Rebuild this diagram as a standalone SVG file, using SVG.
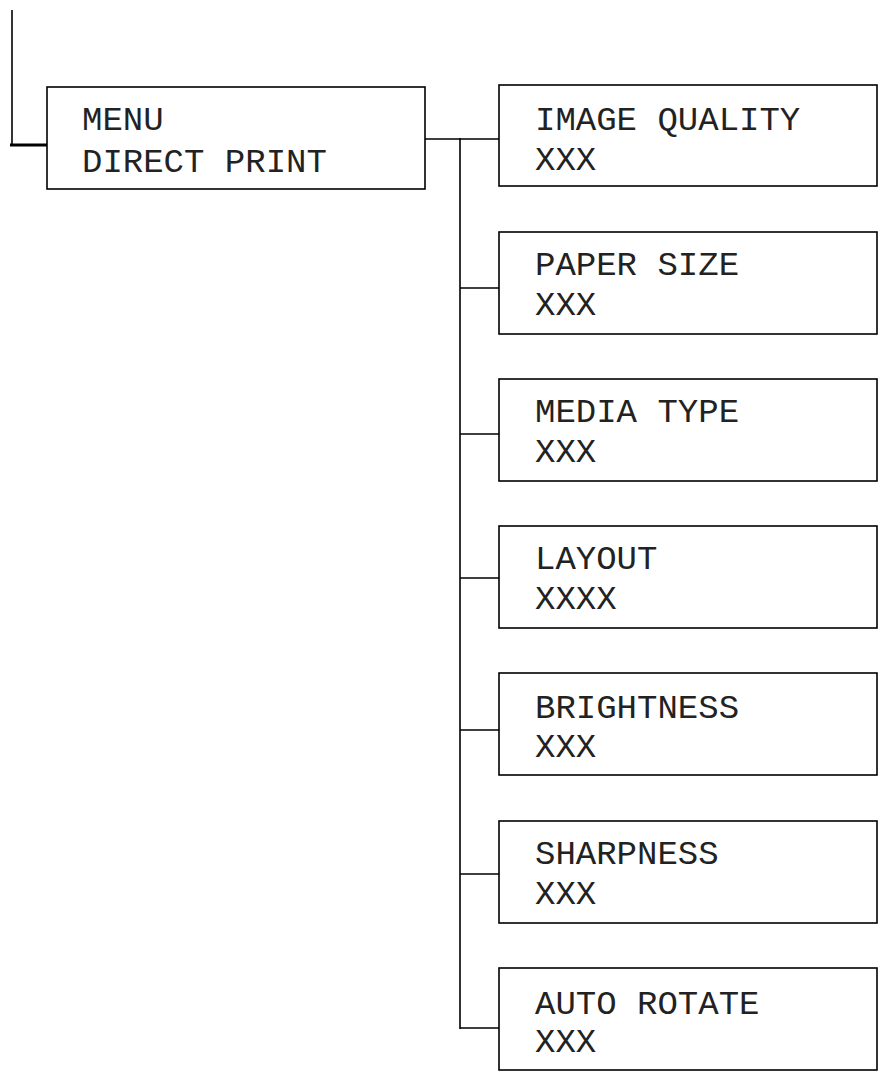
<svg xmlns="http://www.w3.org/2000/svg" width="879" height="1079" viewBox="0 0 879 1079">
<style>
.box{fill:#fff;stroke:#000;stroke-width:1.6}
.ln{stroke:#000;stroke-width:1.6;fill:none}
text{font-family:"Liberation Mono","Courier New",monospace;font-size:34px;fill:#222}
</style>
<rect width="879" height="1079" fill="#fff"/>
<g id="connectors">
<path class="ln" d="M12 10V145"/>
<path d="M10 145H47" stroke="#000" stroke-width="3"/>
<path class="ln" d="M425 139H499M460 138V1029"/>
<path class="ln" d="M460 288H499M460 434H499M460 578H499M460 730H499M460 874H499M460 1028H499"/>
</g>
<g id="menu"><rect class="box" x="47" y="87" width="378" height="102"/><text x="82" y="130">MENU</text><text x="82" y="172">DIRECT PRINT</text></g>
<g id="image_quality"><rect class="box" x="499" y="85" width="378" height="101"/><text x="535" y="130">IMAGE QUALITY</text><text x="535" y="170">XXX</text></g>
<g id="paper_size"><rect class="box" x="499" y="232" width="378" height="102"/><text x="535" y="275">PAPER SIZE</text><text x="535" y="315">XXX</text></g>
<g id="media_type"><rect class="box" x="499" y="379" width="378" height="102"/><text x="535" y="422">MEDIA TYPE</text><text x="535" y="462">XXX</text></g>
<g id="layout"><rect class="box" x="499" y="526" width="378" height="102"/><text x="535" y="569">LAYOUT</text><text x="535" y="609">XXXX</text></g>
<g id="brightness"><rect class="box" x="499" y="673" width="378" height="102"/><text x="535" y="718">BRIGHTNESS</text><text x="535" y="757">XXX</text></g>
<g id="sharpness"><rect class="box" x="499" y="821" width="378" height="102"/><text x="535" y="864">SHARPNESS</text><text x="535" y="904">XXX</text></g>
<g id="auto_rotate"><rect class="box" x="499" y="968" width="378" height="102"/><text x="535" y="1014">AUTO ROTATE</text><text x="535" y="1052">XXX</text></g>
</svg>
